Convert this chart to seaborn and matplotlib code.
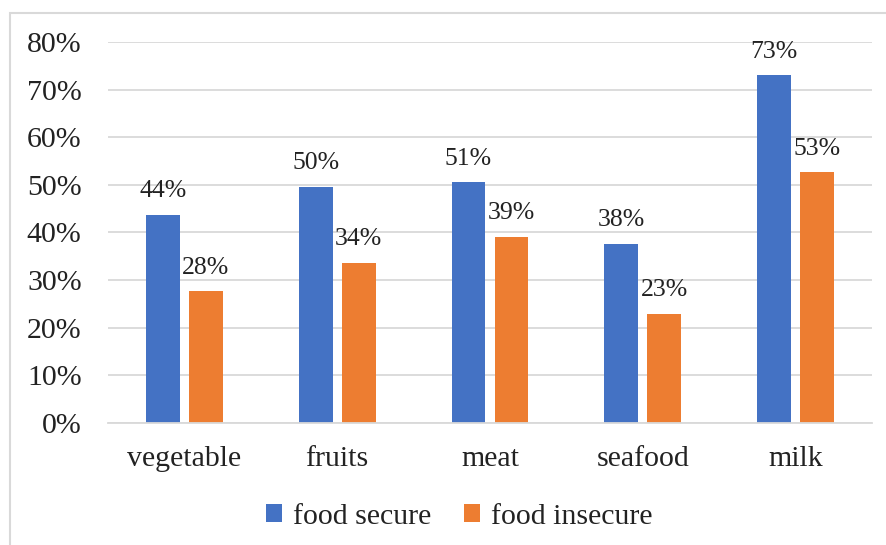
import matplotlib
matplotlib.use("Agg")
import matplotlib.pyplot as plt
from matplotlib.patches import Rectangle, Patch
from matplotlib.ticker import PercentFormatter
import pandas as pd
import seaborn as sns

categories = ["vegetable", "fruits", "meat", "seafood", "milk"]
food_secure = [0.437, 0.496, 0.506, 0.376, 0.731]
food_insecure = [0.276, 0.336, 0.391, 0.229, 0.527]
series = ["food secure", "food insecure"]
colors = ["#4472C4", "#ED7D31"]
y_ticks = [0, 0.1, 0.2, 0.3, 0.4, 0.5, 0.6, 0.7, 0.8]

df = pd.DataFrame({
    "category": categories * 2,
    "share": food_secure + food_insecure,
    "group": [series[0]] * len(categories) + [series[1]] * len(categories),
})

sns.set_theme(style="white")
plt.rcParams["font.family"] = ["Liberation Serif", "DejaVu Serif"]

fig = plt.figure(figsize=(8.87, 5.45), dpi=100)
ax = fig.add_axes([108 / 887, 1 - 422.7 / 545, (872 - 108) / 887, (422.7 - 42.3) / 545])

sns.barplot(data=df, x="category", y="share", hue="group", order=categories,
            hue_order=series, palette=colors, width=0.562, gap=0.21,
            linewidth=0, saturation=1, legend=False, ax=ax)

for cont in ax.containers:
    ax.bar_label(cont, labels=[f"{v * 100:.0f}%" for v in cont.datavalues],
                 padding=9, fontsize=18.5, color="#222222")

ax.set_ylim(0, 0.8)
ax.set_xlim(-0.5, len(categories) - 0.5)
ax.set_yticks(y_ticks)
ax.yaxis.set_major_formatter(PercentFormatter(1.0, decimals=0))
ax.grid(axis="y", color="#d9d9d9", linewidth=1.3)
ax.set_axisbelow(True)
for side in ["top", "right", "left"]:
    ax.spines[side].set_visible(False)
ax.spines["bottom"].set_color("#d9d9d9")
ax.spines["bottom"].set_linewidth(1.3)
ax.tick_params(axis="y", length=0, pad=19, labelsize=21.5, labelcolor="#222222")
ax.tick_params(axis="x", length=0, pad=17, labelsize=21.5, labelcolor="#222222")
ax.set_xlabel("")
ax.set_ylabel("")

handles = [Patch(facecolor=c, edgecolor="none") for c in colors]
fig.legend(handles, series, loc="center", bbox_to_anchor=(459 / 887, 1 - 517 / 545),
           ncol=2, frameon=False, fontsize=21.5, handlelength=0.55, handleheight=0.55,
           handletextpad=0.35, columnspacing=1.1, labelcolor="#222222")

# chart frame (top and left edges visible)
fig.patches.append(Rectangle((10 / 887, -0.1), 1.2, 1.1 - 13 / 545,
                             transform=fig.transFigure, fill=False,
                             edgecolor="#d9d9d9", linewidth=1.5))

fig.savefig("out.png", dpi=100, facecolor="white")
